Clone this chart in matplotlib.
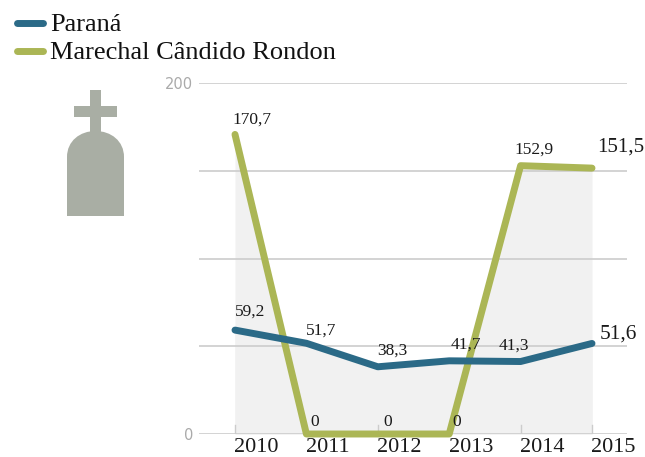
import numpy as np
import matplotlib
matplotlib.use("Agg")
import matplotlib.pyplot as plt
from matplotlib.path import Path
from matplotlib.patches import PathPatch, Rectangle

plt.rcParams['font.family'] = ['Liberation Serif', 'DejaVu Serif']

years = [2010, 2011, 2012, 2013, 2014, 2015]
parana = [59.2, 51.7, 38.3, 41.7, 41.3, 51.6]
rondon = [170.7, 0, 0, 0, 152.9, 151.5]
parana_labels = ["59,2", "51,7", "38,3", "41,7", "41,3"]
rondon_labels = ["170,7", "0", "0", "0", "152,9"]
grid_vals = [0, 50, 100, 150, 200]

blue = "#2b6a87"
green = "#abb655"
W, H = 645, 457

fig = plt.figure(figsize=(W/100, H/100), dpi=100)
# axes spans pixel x 199-627, y 83-434
ax = fig.add_axes([199/W, 1-434/H, (627-199)/W, (434-83)/H])
px = (2015-2010)/(592-235.0)
ax.set_xlim(2010-(235-199)*px, 2015+(627-592)*px)
ax.set_ylim(0, 200)
ax.axis("off")

# grey area under both lines
ax.fill_between(years, 0, rondon, color="#f1f1f1", lw=0, zorder=1)
ax.fill_between(years, 0, parana, color="#f1f1f1", lw=0, zorder=1)
for g in grid_vals:
    ax.axhline(g, color="#cccccc", lw=1.2, zorder=2)
for y in years:
    ax.plot([y, y], [0, 5], color="#cccccc", lw=1, zorder=2)

ax.plot(years, rondon, color=green, lw=5, solid_capstyle="round", solid_joinstyle="round", zorder=3, clip_on=False)
ax.plot(years, parana, color=blue, lw=5, solid_capstyle="round", solid_joinstyle="round", zorder=4, clip_on=False)

# labels (offsets in px)
def lab(x, y, s, dx, dy, size=12.5):
    ax.annotate(s, (x, y), xytext=(dx*0.72, dy*0.72), textcoords="offset points",
                fontsize=size, ha="center", va="center", color="#1a1a1a", zorder=5, annotation_clip=False)

p_off = [(15, 18), (15, 13), (15, 16), (17, 16), (-7, 16)]
r_off = [(17, 15), (8, 12), (10, 12), (7, 12), (13, 16)]
for i in range(5):
    lab(years[i], parana[i], parana_labels[i], *p_off[i])
    lab(years[i], rondon[i], rondon_labels[i], *r_off[i])
lab(2015, 51.6, "51,6", 26, 9, size=15.5)
lab(2015, 151.5, "151,5", 29, 21, size=15)

for y in years:
    ax.text(y + 21.5*px, -7.5, str(y), fontsize=16, ha="center", va="center", color="#1a1a1a", clip_on=False)

for v, s in [(200, "200"), (0, "0")]:
    ax.text(2010-(235-193)*px, v-0.8, s, fontsize=10.5, family="DejaVu Sans", ha="right", va="center", color="#aaaaaa", clip_on=False)

# legend and icon drawn in figure pixels
ov = fig.add_axes([0, 0, 1, 1])
ov.set_xlim(0, W)
ov.set_ylim(H, 0)
ov.axis("off")
ov.patch.set_alpha(0)
ov.plot([17, 43], [23, 23], color=blue, lw=5, solid_capstyle="round")
ov.plot([17, 43], [51, 51], color=green, lw=5, solid_capstyle="round")
ov.text(50, 31, "Paraná", fontsize=19, va="baseline", color="#111111")
ov.text(50, 59, "Marechal Cândido Rondon", fontsize=19, va="baseline", color="#111111")

# tombstone icon
stone = "#a9aea4"
ov.add_patch(Rectangle((90, 90), 11, 45, color=stone, lw=0))
ov.add_patch(Rectangle((74, 106), 43, 11, color=stone, lw=0))
verts = [(67, 216), (67, 157), (67, 141), (80, 131), (95.5, 131), (111, 131), (124, 141), (124, 157), (124, 216), (67, 216)]
codes = [Path.MOVETO, Path.LINETO, Path.CURVE4, Path.CURVE4, Path.CURVE4, Path.CURVE4, Path.CURVE4, Path.CURVE4, Path.LINETO, Path.CLOSEPOLY]
ov.add_patch(PathPatch(Path(verts, codes), facecolor=stone, lw=0))

fig.savefig("out.png", dpi=100)
